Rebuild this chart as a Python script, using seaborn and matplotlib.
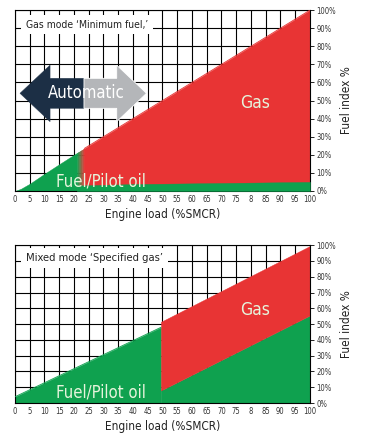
import numpy as np
import matplotlib
matplotlib.use("Agg")
from matplotlib import pyplot as plt
import seaborn as sns

# ---- data ----
load_ticks = list(range(0, 101, 5))
load_labels = ["0", "5", "10", "15", "20", "25", "30", "35", "40", "45", "50",
               "55", "60", "65", "70", "75", "8", "85", "90", "95", "100"]
index_ticks = list(range(0, 101, 10))
index_labels = [f"{v}%" for v in index_ticks]

# gas mode 'Minimum fuel'
gm_load = [0, 2, 5, 10, 15, 20, 21, 23.5, 40, 60, 80, 100]
gm_total = [0, 1.2, 4, 9.5, 14.8, 20, 21, 23.5, 40, 60, 80, 100]
gm_switch = [21, 23.5]          # oil -> gas transition band
gm_pilot_load = [21, 40, 100]
gm_pilot = [3.0, 3.8, 5.0]

# arrow "Automatic"
arrow_dark_x = [1.7, 11.9, 11.9, 23.4, 23.4, 11.9, 11.9]
arrow_dark_y = [54, 69.6, 62.3, 62.3, 45.7, 45.7, 38.3]
arrow_grey_x = [23.4, 34.5, 34.5, 44.6, 34.5, 34.5, 23.4]
arrow_grey_y = [62.3, 62.3, 69.6, 54, 38.3, 45.7, 45.7]

# mixed mode 'Specified gas'
mm_oil_load = [0, 49.5]
mm_oil = [4, 48]
mm_gas_load = [49.5, 100]
mm_gas_oil = [8, 55.5]
mm_gas_total = [51.5, 99.5]

green = "#0fa14f"
red = "#e83434"
navy = "#1c2f45"
grey = "#b4b6b9"
txt_green = "#e6f4dc"

sns.set_style("white")
plt.rcParams["font.family"] = ["DejaVu Sans"]
plt.rcParams["font.stretch"] = "condensed"

fig = plt.figure(figsize=(3.65, 4.41), dpi=100)
ax1 = fig.add_axes([0.041, 0.567, 0.808, 0.410])
ax2 = fig.add_axes([0.041, 0.086, 0.808, 0.358])


def style_axes(ax, title, title_size):
    ax.set_xlim(0, 100)
    ax.set_ylim(0, 100)
    ax.set_axisbelow(True)
    ax.set_xticks(load_ticks)
    ax.set_xticklabels(load_labels)
    ax.set_yticks(index_ticks)
    ax.set_yticklabels(index_labels)
    ax.yaxis.tick_right()
    ax.yaxis.set_label_position("right")
    ax.grid(True, color="black", linewidth=0.8)
    ax.tick_params(axis="x", length=0, pad=3, labelsize=5.5, colors="#333333")
    ax.tick_params(axis="y", length=3, width=0.6, pad=1.5, labelsize=5.5,
                   colors="#333333", right=True, left=False)
    ax.tick_params(axis="y", which="both", color="black")
    for s in ax.spines.values():
        s.set_visible(True)
        s.set_color("black")
        s.set_linewidth(0.8)
    ax.set_xlabel("Engine load (%SMCR)", fontsize=8.5, color="#222222", labelpad=3)
    ax.set_ylabel("Fuel index %", fontsize=8.5, color="#222222", labelpad=3)
    ax.text(3.8, 92, title, fontsize=title_size, color="#222222", va="center",
            ha="left", zorder=5,
            bbox=dict(boxstyle="square,pad=0.45", facecolor="white",
                      edgecolor="none"))


# ---- top panel ----
load = np.array(gm_load)
total = np.array(gm_total)
mask = load <= gm_switch[0]
ax1.fill_between(load[mask], 0, total[mask], color=green, linewidth=0.3, zorder=2)
# transition band from oil to gas
band = np.linspace(gm_switch[0], gm_switch[1], 11)
c0 = np.array(matplotlib.colors.to_rgb(green))
c1 = np.array(matplotlib.colors.to_rgb(red))
for i in range(len(band) - 1):
    f = (i + 0.5) / (len(band) - 1)
    xs = [band[i], band[i + 1]]
    ax1.fill_between(xs, 0, np.interp(xs, load, total),
                     color=c0 * (1 - f) + c1 * f, linewidth=0.3, zorder=2)
mask = load >= gm_switch[1]
ax1.fill_between(load[mask], 0, total[mask], color=red, linewidth=0.3, zorder=2)
ax1.fill_between(gm_pilot_load, 0, gm_pilot, color=green, linewidth=0.3, zorder=3)
sns.lineplot(x=load[mask], y=total[mask], ax=ax1, color=red, linewidth=0.6,
             zorder=3)

ax1.fill(arrow_dark_x, arrow_dark_y, color=navy, linewidth=0.3, zorder=4)
ax1.fill(arrow_grey_x, arrow_grey_y, facecolor=grey, edgecolor="white",
         linewidth=0.6, zorder=4)
ax1.text(24.2, 54.3, "Automatic", fontsize=12, color="white", ha="center",
         va="center", zorder=5)
ax1.text(81.5, 48.5, "Gas", fontsize=12.5, color=txt_green, ha="center",
         va="center", zorder=5)
ax1.text(29, 5.5, "Fuel/Pilot oil", fontsize=12, color=txt_green, ha="center",
         va="center", zorder=5)
style_axes(ax1, "Gas mode \u2018Minimum fuel,\u2019", 7.5)

# ---- bottom panel ----
ax2.fill_between(mm_oil_load, 0, mm_oil, color=green, linewidth=0.3, zorder=2)
ax2.fill_between(mm_gas_load, 0, mm_gas_oil, color=green, linewidth=0.3, zorder=2)
ax2.fill_between(mm_gas_load, mm_gas_oil, mm_gas_total, color=red,
                 linewidth=0.3, zorder=2)
sns.lineplot(x=mm_oil_load, y=mm_oil, ax=ax2, color=green, linewidth=0.6, zorder=3)
ax2.text(81.5, 59, "Gas", fontsize=12.5, color=txt_green, ha="center",
         va="center", zorder=5)
ax2.text(29, 6.5, "Fuel/Pilot oil", fontsize=12, color=txt_green, ha="center",
         va="center", zorder=5)
style_axes(ax2, "Mixed mode \u2018Specified gas\u2019", 8)

fig.savefig("out.png", dpi=100)
